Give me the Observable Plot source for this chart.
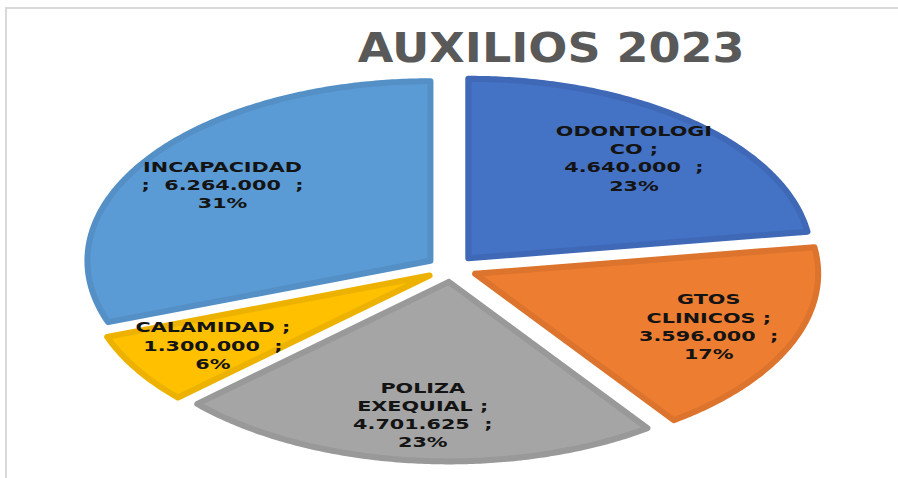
<!DOCTYPE html>
<html>
<head>
<meta charset="utf-8">
<script src="https://cdn.jsdelivr.net/npm/d3@7"></script>
<script src="https://cdn.jsdelivr.net/npm/@observablehq/plot@0.6"></script>
<style>
  html, body { margin: 0; background: #fff; overflow: hidden; }
  #wrap { position: relative; width: 898px; height: 478px; overflow: hidden; background: #fff; }
  #border { position: absolute; left: 5px; top: 7px; width: 900px; height: 480px;
            border-top: 2px solid #d9d9d9; border-left: 2px solid #d9d9d9; pointer-events: none; }
  #title { box-sizing: border-box; width: 898px; height: 68px; padding-top: 25px; padding-left: 204px;
           text-align: center; font-family: "DejaVu Sans", sans-serif; font-weight: bold; font-size: 40px;
           line-height: 46px; color: #595959; white-space: nowrap; }
  #title span { display: inline-block; transform: scaleX(1.15); }
  svg text { white-space: pre; }
</style>
</head>
<body>
<div id="wrap">
  <div id="title"><span></span></div>
  <div id="chart"></div>
  <div id="border"></div>
</div>
<script>
const title = "AUXILIOS 2023";
const categories = ["ODONTOLOGICO", "GTOS CLINICOS", "POLIZA EXEQUIAL", "CALAMIDAD", "INCAPACIDAD"];
const values = [4640000, 3596000, 4701625, 1300000, 6264000];
const percents = [23, 17, 23, 6, 31];
const labels = [
  "ODONTOLOGI\nCO ;\n4.640.000  ;\n23%",
  "GTOS\nCLINICOS ;\n3.596.000  ;\n17%",
  "POLIZA\nEXEQUIAL ;\n4.701.625  ;\n23%",
  "CALAMIDAD ;\n1.300.000  ;\n6%",
  "INCAPACIDAD\n;  6.264.000  ;\n31%"
];
const colors = ["#4472C4", "#ED7D31", "#A5A5A5", "#FFC000", "#5B9BD5"];

document.querySelector("#title span").textContent = title;

const explode = 0.075;
const labelR = 0.74;

const pie = d3.pie().sort(null).value(d => d)(values);
const slices = pie.map((p, i) => ({
  name: categories[i], start: p.startAngle, end: p.endAngle, mid: (p.startAngle + p.endAngle) / 2
}));

const outline = slices.flatMap(s => {
  const ox = explode * Math.sin(s.mid), oy = explode * Math.cos(s.mid);
  const n = Math.ceil((s.end - s.start) / 0.01);
  const arc = d3.range(n + 1).map(k => {
    const a = s.start + (s.end - s.start) * k / n;
    return {name: s.name, x: ox + Math.sin(a), y: oy + Math.cos(a)};
  });
  return [{name: s.name, x: ox, y: oy}, ...arc, {name: s.name, x: ox, y: oy}];
});

const labelPts = slices.map((s, i) => ({
  text: labels[i],
  x: (explode + labelR) * Math.sin(s.mid),
  y: (explode + labelR) * Math.cos(s.mid)
}));

const W = 898, H = 410, CX = 451, CY = 200, RX = 343, RY = 179.5;

const chart = Plot.plot({
  width: W,
  height: H,
  margin: 0,
  x: {domain: [-CX / RX, (W - CX) / RX], axis: null},
  y: {domain: [-(H - CY) / RY, CY / RY], axis: null},
  color: {domain: categories, range: colors},
  style: {background: "transparent"},
  marks: [
    Plot.line(outline, {x: "x", y: "y", z: "name", fill: "name", stroke: "name", strokeWidth: 6, strokeLinejoin: "round"}),
    Plot.line(outline, {x: "x", y: "y", z: "name", fill: "none", stroke: "#000", strokeOpacity: 0.07, strokeWidth: 6, strokeLinejoin: "round"}),
    Plot.text(labelPts, {x: "x", y: "y", text: "text", fontFamily: "DejaVu Sans", fontWeight: "bold",
      fontSize: 14, lineHeight: 1.29, fill: "#141414", textAnchor: "middle", lineAnchor: "middle"})
  ]
});
document.getElementById("chart").appendChild(chart);

chart.querySelectorAll('g[aria-label="text"] text').forEach(t => {
  const tr = t.getAttribute("transform");
  if (tr) {
    t.setAttribute("transform", tr + " scale(1.48,1)");
  } else {
    const x = +t.getAttribute("x") || 0, y = +t.getAttribute("y") || 0;
    t.setAttribute("transform", `translate(${x},${y}) scale(1.48,1) translate(${-x},${-y})`);
  }
});
</script>
</body>
</html>
